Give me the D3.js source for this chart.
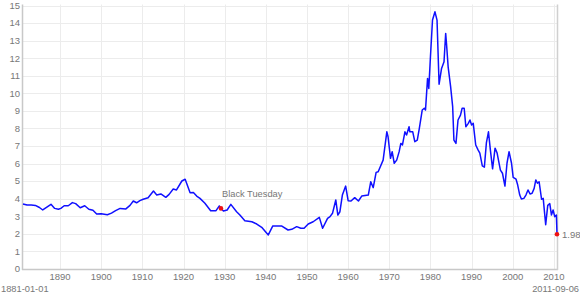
<!DOCTYPE html>
<html>
<head>
<meta charset="utf-8">
<script src="https://cdn.jsdelivr.net/npm/d3@7"></script>
<style>
  html, body { margin: 0; padding: 0; background: #fff; }
  svg { display: block; }
  text { font-family: "Liberation Sans", Arial, Helvetica, sans-serif; fill: #777; }
</style>
</head>
<body>
<svg id="chart" width="580" height="297"></svg>
<script>
// Long-term interest rate (%)
const years = [
  1881.0, 1882.0, 1883.0, 1884.0, 1885.0, 1885.8, 1886.8, 1887.8, 1888.7, 1889.6,
  1890.2, 1891.0, 1892.0, 1893.0, 1893.8, 1894.9, 1896.0, 1897.0, 1898.0, 1898.9,
  1900.0, 1901.5, 1902.5, 1903.5, 1904.6, 1906.0, 1907.0, 1907.8, 1908.6, 1909.4,
  1910.2, 1911.4, 1912.7, 1913.5, 1914.5, 1915.7, 1916.5, 1917.5, 1918.3, 1919.6,
  1920.4, 1921.6, 1922.4, 1923.2, 1924.0, 1925.2, 1926.6, 1927.9, 1928.7, 1929.1,
  1929.7, 1930.6, 1931.5, 1932.9, 1933.7, 1934.9, 1936.6, 1937.8, 1939.0, 1940.6,
  1941.7, 1943.8, 1945.4, 1946.3, 1947.5, 1948.5, 1949.3, 1950.3, 1951.5, 1953.0,
  1953.8, 1955.0, 1955.6, 1956.2, 1957.0, 1957.5, 1958.0, 1958.6, 1959.4, 1960.0,
  1960.7, 1961.6, 1962.5, 1963.3, 1964.9, 1965.5, 1966.1, 1966.8, 1967.3, 1968.5,
  1969.4, 1969.7, 1970.3, 1970.7, 1971.2, 1971.8, 1972.4, 1972.8, 1973.2, 1973.8,
  1974.2, 1974.8, 1975.0, 1975.7, 1976.2, 1976.8, 1977.3, 1978.0, 1978.5, 1978.8,
  1979.3, 1979.6, 1980.0, 1980.5, 1981.1, 1981.6, 1982.1, 1982.7, 1983.3, 1983.7,
  1983.9, 1984.3, 1984.9, 1985.4, 1985.7, 1986.2, 1986.7, 1987.3, 1987.7, 1988.2,
  1988.6, 1989.2, 1989.6, 1990.0, 1990.4, 1991.0, 1991.6, 1992.0, 1992.6, 1993.1,
  1993.6, 1994.1, 1994.6, 1995.1, 1995.7, 1996.2, 1997.0, 1997.5, 1998.1, 1998.6,
  1999.1, 1999.7, 2000.1, 2000.8, 2001.2, 2001.7, 2002.1, 2002.7, 2003.2, 2003.7,
  2004.2, 2004.7, 2005.2, 2005.6, 2006.0, 2006.4, 2007.0, 2007.4, 2008.0, 2008.5,
  2009.0, 2009.4, 2009.8, 2010.2, 2010.6, 2010.75
];
const rates = [
  3.70, 3.64, 3.64, 3.62, 3.50, 3.36, 3.52, 3.68, 3.45, 3.40,
  3.45, 3.60, 3.60, 3.78, 3.72, 3.49, 3.60, 3.40, 3.35, 3.13,
  3.15, 3.09, 3.18, 3.32, 3.45, 3.42, 3.62, 3.87, 3.77, 3.89,
  3.97, 4.06, 4.44, 4.21, 4.27, 4.08, 4.25, 4.55, 4.50, 5.01,
  5.11, 4.34, 4.36, 4.15, 4.02, 3.74, 3.32, 3.32, 3.59, 3.45,
  3.30, 3.36, 3.68, 3.26, 3.07, 2.75, 2.69, 2.56, 2.37, 1.94,
  2.45, 2.45, 2.22, 2.26, 2.41, 2.32, 2.32, 2.56, 2.69, 2.94,
  2.32, 2.88, 2.98, 3.17, 3.93, 3.07, 3.26, 4.21, 4.72, 3.89,
  3.87, 4.06, 3.87, 4.15, 4.21, 4.97, 4.63, 5.50, 5.54, 6.20,
  7.81, 7.53, 6.30, 6.68, 6.02, 6.20, 6.68, 7.15, 7.06, 7.81,
  7.63, 8.10, 7.81, 7.81, 7.25, 7.34, 8.01, 9.05, 9.15, 9.05,
  10.85, 10.28, 12.08, 14.17, 14.64, 14.17, 10.52, 11.42, 11.80, 13.41,
  12.84, 11.51, 10.38, 9.24, 7.34, 7.15, 8.48, 8.76, 9.15, 9.15,
  8.10, 8.29, 8.48, 8.20, 8.29, 7.06, 6.77, 6.60, 5.87, 5.80,
  7.20, 7.81, 6.70, 5.70, 6.88, 6.60, 5.63, 5.45, 4.72, 6.02,
  6.68, 6.02, 5.22, 5.11, 4.78, 4.21, 3.98, 4.02, 4.21, 4.50,
  4.27, 4.31, 4.59, 5.07, 4.88, 4.97, 3.97, 4.02, 2.52, 3.62,
  3.72, 3.07, 3.36, 2.98, 3.07, 1.98
];
const xTickYears = [1890, 1900, 1910, 1920, 1930, 1940, 1950, 1960, 1970, 1980, 1990, 2000, 2010];
const yTicks = [0, 1, 2, 3, 4, 5, 6, 7, 8, 9, 10, 11, 12, 13, 14, 15];
const startLabel = "1881-01-01";
const endLabel = "2011-09-06";
const annotationText = "Black Tuesday";
const annotationIndex = 49;

const data = years.map((yr, i) => ({ year: yr, value: rates[i] }));

const plotLeft = 23, plotRight = 557, plotTop = 5.5, plotBottom = 269;
const svg = d3.select("#chart");

const x = d3.scaleLinear().domain([years[0], years[years.length - 1]]).range([plotLeft, plotRight]);
const y = d3.scaleLinear().domain([0, 15]).range([plotBottom, plotTop]);

// horizontal grid
svg.append("g")
  .selectAll("line").data(yTicks.filter(d => d > 0)).join("line")
  .attr("x1", plotLeft).attr("x2", plotRight)
  .attr("y1", d => Math.round(y(d)) + 0.5).attr("y2", d => Math.round(y(d)) + 0.5)
  .attr("stroke", "#ececec").attr("stroke-width", 1);

// vertical grid
svg.append("g")
  .selectAll("line").data(xTickYears).join("line")
  .attr("x1", d => Math.round(x(d)) + 0.5).attr("x2", d => Math.round(x(d)) + 0.5)
  .attr("y1", plotTop - 1).attr("y2", plotBottom)
  .attr("stroke", "#ececec").attr("stroke-width", 1);

// axis frame lines
svg.append("line").attr("x1", plotLeft - 0.5).attr("x2", plotLeft - 0.5).attr("y1", plotTop - 1).attr("y2", plotBottom + 1)
  .attr("stroke", "#c8c8c8").attr("stroke-width", 1.5);
svg.append("line").attr("x1", plotLeft - 1).attr("x2", plotRight + 1).attr("y1", plotBottom + 0.5).attr("y2", plotBottom + 0.5)
  .attr("stroke", "#c8c8c8").attr("stroke-width", 1.5);
svg.append("line").attr("x1", plotRight + 0.5).attr("x2", plotRight + 0.5).attr("y1", plotTop - 1).attr("y2", plotBottom + 1)
  .attr("stroke", "#d0d0d0").attr("stroke-width", 1.5);

// y labels
svg.append("g")
  .selectAll("text").data(yTicks).join("text")
  .attr("x", 20).attr("y", d => y(d) + 3.3)
  .attr("text-anchor", "end").attr("font-size", "9.5px")
  .text(d => d);

// x labels
svg.append("g")
  .selectAll("text").data(xTickYears).join("text")
  .attr("x", d => x(d)).attr("y", 279.5)
  .attr("text-anchor", "middle").attr("font-size", "9.5px")
  .text(d => d);

svg.append("text").attr("x", 1).attr("y", 292).attr("font-size", "9.3px").text(startLabel);
svg.append("text").attr("x", 579).attr("y", 292).attr("text-anchor", "end").attr("font-size", "9.3px").text(endLabel);

// line
const line = d3.line().x(d => x(d.year)).y(d => y(d.value));
svg.append("path").datum(data)
  .attr("d", line).attr("fill", "none")
  .attr("stroke", "#1010ff").attr("stroke-width", 1.5).attr("stroke-linejoin", "round");

// annotation
const ann = data[annotationIndex];
svg.append("circle").attr("cx", x(ann.year)).attr("cy", y(ann.value)).attr("r", 2.3).attr("fill", "#ee1111");
svg.append("text").attr("x", x(ann.year) + 1).attr("y", y(ann.value) - 11)
  .attr("font-size", "9.3px").text(annotationText);

// last value
const last = data[data.length - 1];
svg.append("circle").attr("cx", x(last.year)).attr("cy", y(last.value)).attr("r", 2.3).attr("fill", "#ee1111");
svg.append("text").attr("x", x(last.year) + 5).attr("y", y(last.value) + 3.3)
  .attr("font-size", "9.5px").text(d3.format(".2f")(last.value));
</script>
</body>
</html>
